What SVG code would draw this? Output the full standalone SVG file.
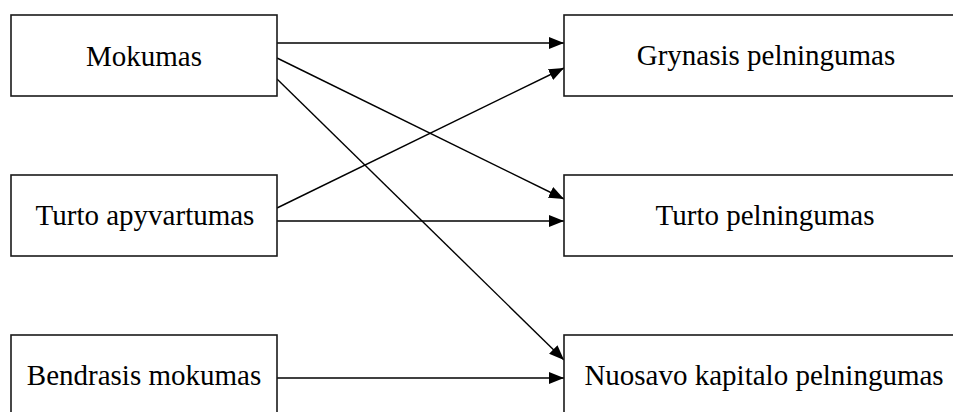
<svg xmlns="http://www.w3.org/2000/svg" width="953" height="412" viewBox="0 0 953 412">
  <style>
    .box { fill: #ffffff; stroke: #1a1a1a; stroke-width: 1.6; }
    .label { font-family: "Liberation Serif", "Times New Roman", serif; font-size: 29px; fill: #000000; text-anchor: middle; }
    .edge { fill: none; stroke: #000000; stroke-width: 1.4; marker-end: url(#arrow); }
  </style>
  <defs>
    <marker id="arrow" markerUnits="userSpaceOnUse" markerWidth="16" markerHeight="12" refX="15" refY="6" orient="auto">
      <path d="M0,0 L15,6 L0,12 Z" fill="#000000"/>
    </marker>
  </defs>
  <rect width="953" height="412" fill="#ffffff"/>

  <g id="connectors">
    <path class="edge" d="M277,43 L564,43"/>
    <path class="edge" d="M277,58 L564,199"/>
    <path class="edge" d="M277,79 L564,360"/>
    <path class="edge" d="M277,208 L564,68"/>
    <path class="edge" d="M277,221 L564,221"/>
    <path class="edge" d="M277,378 L564,378"/>
  </g>

  <g id="mokumas">
    <rect class="box" x="11" y="15" width="266" height="81"/>
    <text class="label" x="144" y="66">Mokumas</text>
  </g>
  <g id="turto-apyvartumas">
    <rect class="box" x="11" y="175" width="266" height="81"/>
    <text class="label" x="145" y="225">Turto apyvartumas</text>
  </g>
  <g id="bendrasis-mokumas">
    <rect class="box" x="11" y="335" width="266" height="81"/>
    <text class="label" x="144" y="385">Bendrasis mokumas</text>
  </g>
  <g id="grynasis-pelningumas">
    <rect class="box" x="564" y="15" width="402" height="81"/>
    <text class="label" x="766" y="65">Grynasis pelningumas</text>
  </g>
  <g id="turto-pelningumas">
    <rect class="box" x="564" y="175" width="402" height="81"/>
    <text class="label" x="765" y="225">Turto pelningumas</text>
  </g>
  <g id="nuosavo-kapitalo-pelningumas">
    <rect class="box" x="564" y="335" width="402" height="81"/>
    <text class="label" x="764" y="385">Nuosavo kapitalo pelningumas</text>
  </g>
</svg>
